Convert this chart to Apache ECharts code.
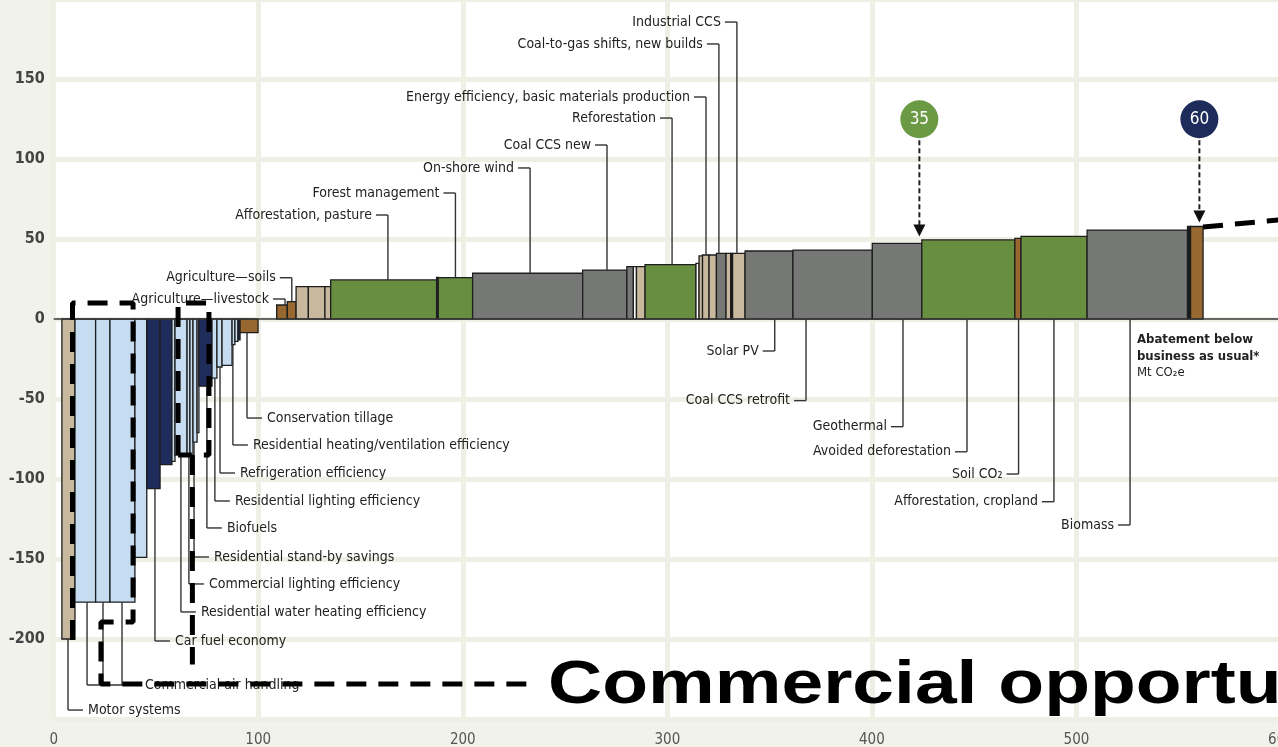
<!DOCTYPE html>
<html><head><meta charset="utf-8">
<script src="https://cdn.jsdelivr.net/npm/echarts@6/dist/echarts.min.js"></script>
<style>html,body{margin:0;padding:0;background:#f2f2ec;}#c{width:1278px;height:747px;}</style>
</head><body><div id="c"></div>
<script>
// ---- data: abatement segments (Mt CO2e cumulative) and cost ($/t CO2e) ----
const barStart = [4.0,10.4,20.5,27.5,39.7,45.5,52.0,57.8,59.3,65.2,66.6,68.1,70.1,71.0,77.4,79.8,82.3,87.2,88.6,90.1,91.1,
  109.0,114.2,118.5,124.5,132.6,135.4,187.2,188.0,204.8,258.6,280.2,283.4,284.9,289.1,314.0,315.5,317.2,320.4,324.0,328.7,331.0,331.9,338.0,361.4,400.2,424.4,469.9,472.9,505.2,554.3,555.8];
const barEnd = [10.4,20.5,27.5,39.7,45.5,52.0,57.8,59.3,65.2,66.6,68.1,70.1,71.0,77.4,79.8,82.3,87.2,88.6,90.1,91.1,99.9,
  114.2,118.5,124.5,132.6,135.4,187.2,188.0,204.8,258.6,280.2,283.4,284.9,289.1,314.0,315.5,317.2,320.4,324.0,328.7,331.0,331.9,338.0,361.4,400.2,424.4,469.9,472.9,505.2,554.3,555.8,561.9];
const barCost = [-200,-177,-177,-177,-149,-106,-91,-89,-85,-85,-85,-77,-71,-42,-37,-30,-29,-16,-14,-13,-8.5,
  8.75,10.8,20.2,20.2,20.2,24.4,26.0,25.8,28.6,30.6,32.7,32.7,32.7,34.0,34.8,39.4,40.0,40.0,41.0,41.0,41.0,41.0,42.5,43.1,47.3,49.4,50.4,51.6,55.6,57.8,57.8];
const barKind = ['tan','lblue','lblue','lblue','lblue','navy','navy','lblue','lblue','lblue','lblue','lblue','lblue','navy','lblue','lblue','lblue','lblue','lblue','navy','brown',
  'brown','brown','tan','tan','tan','green','navy','green','gray','gray','gray','white','tan','green','white','tan','tan','tan','gray','tan','black','tan','gray','gray','gray','green','brown','green','gray','black','brown'];
const kindColor = {tan:'#c8b99e', lblue:'#c6dcf0', navy:'#1d2c5b', brown:'#97682f', green:'#688f3f', gray:'#767876', white:'#ffffff', black:'#1b1b1b'};

// ---- labels ----
const labelText = ['Motor systems','Commercial air handling','Car fuel economy','Residential water heating efficiency','Commercial lighting efficiency','Residential stand-by savings','Biofuels','Residential lighting efficiency','Refrigeration efficiency','Residential heating/ventilation efficiency','Conservation tillage',
  'Agriculture\u2014livestock','Agriculture\u2014soils','Afforestation, pasture','Forest management','On-shore wind','Coal CCS new','Reforestation','Energy efficiency, basic materials production','Coal-to-gas shifts, new builds','Industrial CCS',
  'Solar PV','Coal CCS retrofit','Geothermal','Avoided deforestation','Soil CO\u2082','Afforestation, cropland','Biomass'];
const labelAt = [7.0,[16.3,24.1,33.4],49.5,62.2,66.1,68.6,74.9,78.8,81.3,87.6,94.5,
  113.1,116.4,163.4,196.4,232.9,270.5,302.3,318.9,325.2,334.0,
  352.5,367.8,415.2,446.5,471.7,489.0,526.2];
const labelLevel = [-244.4,-228.75,-201.25,-183.1,-165.6,-148.75,-130.6,-113.75,-96.25,-78.75,-61.9,
  12.5,25.8,65,78.75,94.4,108.75,125.6,138.75,171.9,185.6,
  -20,-51,-67.3,-83,-96.9,-114.2,-128.75];
const labelSide = ['r','r','r','r','r','r','r','r','r','r','r','l','l','l','l','l','l','l','l','l','l','l','l','l','l','l','l','l'];

// ---- price markers ----
const badgeText = ['35','60'];
const badgeAt = [423.2,560.1];
const badgeLevel = [124.8,124.8];
const badgeTip = [51.5,60.3];
const badgeColor = ['#6b9a45','#1d2c5b'];

// ---- overlay outline (commercial opportunities) ----
const outlineA = [[9.2,-200.6],[9.2,10],[38.8,10],[38.8,-189.4],[23.1,-189.4],[23.1,-228.1],[232.9,-228.1]];
const outlineB = [[60.8,-85],[60.8,10],[75.9,10],[75.9,-85],[60.8,-85]];
const outlineBTail = [[67.8,-85],[67.8,-216]];
const outlineC = [[561.9,57.5],[600,62]];

const FONT = "'Liberation Sans Narrow','DejaVu Sans Condensed','Liberation Sans',sans-serif";

function costAt(x){
  for (let i=0;i<barStart.length;i++){ if (x>=barStart[i] && x<=barEnd[i]) return barCost[i]; }
  return 0;
}

const chart = echarts.init(document.getElementById('c'), null, {renderer:'canvas'});

function renderBar(params, api){
  const i = params.dataIndex;
  const a = api.coord([api.value(0), 0]);
  const b = api.coord([api.value(1), api.value(2)]);
  return {type:'rect', shape:{x:a[0], y:Math.min(a[1],b[1]), width:b[0]-a[0], height:Math.abs(b[1]-a[1])},
    style:{fill:kindColor[barKind[i]], stroke:'#1e1e1e', lineWidth:1.3}};
}

function renderLabel(params, api){
  const i = params.dataIndex;
  const xs = [].concat(labelAt[i]);
  const lvl = labelLevel[i];
  const ypx = api.coord([0,lvl])[1];
  const children = [];
  const pxs = [];
  xs.forEach(function(x){
    const c = costAt(x);
    const start = (Math.sign(c)===Math.sign(lvl)) ? c : 0;
    const p = api.coord([x,start]);
    pxs.push(p[0]);
    children.push({type:'line', shape:{x1:p[0],y1:p[1],x2:p[0],y2:ypx}, style:{stroke:'#333',lineWidth:1.4}});
  });
  const minX = Math.min.apply(null,pxs), maxX = Math.max.apply(null,pxs);
  let tx, align;
  if (labelSide[i]==='r'){
    const end = maxX + (xs.length>1 ? 18 : 15);
    children.push({type:'line', shape:{x1:minX,y1:ypx,x2:end,y2:ypx}, style:{stroke:'#333',lineWidth:1.4}});
    tx = end + 5; align='left';
  } else {
    const end = minX - 12;
    children.push({type:'line', shape:{x1:end,y1:ypx,x2:maxX,y2:ypx}, style:{stroke:'#333',lineWidth:1.4}});
    tx = end - 4; align='right';
  }
  children.push({type:'text', x:tx, y:ypx, style:{text:labelText[i], align:align, verticalAlign:'middle', fill:'#222', font:'14px '+FONT}});
  return {type:'group', children:children};
}

function renderBadge(params, api){
  const i = params.dataIndex;
  const c = api.coord([badgeAt[i], badgeLevel[i]]);
  const tip = api.coord([badgeAt[i], badgeTip[i]]);
  const r = 19;
  return {type:'group', children:[
    {type:'line', shape:{x1:c[0],y1:c[1]+r+2,x2:c[0],y2:tip[1]-10}, style:{stroke:'#222',lineWidth:2,lineDash:[5,3]}},
    {type:'polygon', shape:{points:[[c[0]-6,tip[1]-12],[c[0]+6,tip[1]-12],[c[0],tip[1]]]}, style:{fill:'#111'}},
    {type:'circle', shape:{cx:c[0],cy:c[1],r:r}, style:{fill:badgeColor[i]}},
    {type:'text', x:c[0], y:c[1], style:{text:badgeText[i], align:'center', verticalAlign:'middle', fill:'#fff', font:'17px '+FONT}}
  ]};
}

function outline(data){
  return {type:'line', data:data, symbol:'none', silent:true, z:10, animation:false,
    lineStyle:{color:'#000', width:5, type:[20,12]}};
}

chart.setOption({
  animation:false,
  backgroundColor:'#f2f2ec',
  grid:{left:53.7, top:-1, width:1227.3, height:720, show:true, backgroundColor:'#ffffff', borderWidth:0, containLabel:false, outerBoundsMode:'none'},
  xAxis:{type:'value', min:0, max:600, interval:100,
    axisLine:{show:false, onZero:false}, axisTick:{show:false},
    splitLine:{lineStyle:{color:'#efefe6', width:5}},
    axisLabel:{color:'#555', fontSize:15, margin:14, fontFamily:FONT}},
  yAxis:{type:'value', min:-250, max:200, interval:50,
    axisLine:{show:false}, axisTick:{show:false},
    splitLine:{lineStyle:{color:'#efefe6', width:5}},
    axisLabel:{color:'#444', fontSize:16, fontWeight:'bold', margin:9, fontFamily:FONT, showMinLabel:false, showMaxLabel:false}},
  graphic:[
    {type:'text', left:1137, top:331, style:{text:'Abatement below\nbusiness as usual*', font:'bold 13px '+FONT, fill:'#222', lineHeight:17}},
    {type:'text', left:1137, top:366, style:{text:'Mt CO\u2082e', font:'13px '+FONT, fill:'#222'}},
    {type:'text', x:548, y:686, scaleX:1.21, z:20, style:{text:'Commercial opportu', align:'left', verticalAlign:'middle', font:'bold 62px "Liberation Sans",Arial,sans-serif', fill:'#000'}}
  ],
  series:[
    {type:'custom', name:'bars', renderItem:renderBar, clip:false, z:3,
      data:barStart.map(function(s,i){return [s, barEnd[i], barCost[i]];}),
      encode:{x:[0,1], y:2},
      markLine:{silent:true, symbol:['none','none'], label:{show:false}, lineStyle:{color:'#3a3a3a', width:1.5, type:'solid'}, data:[{yAxis:0}]}},
    {type:'custom', name:'labels', renderItem:renderLabel, z:4, clip:false,
      data:labelText.map(function(t,i){return [[].concat(labelAt[i])[0], labelLevel[i]];}), encode:{x:0,y:1}},
    {type:'custom', name:'badges', renderItem:renderBadge, z:5, clip:false,
      data:badgeText.map(function(t,i){return [badgeAt[i], badgeLevel[i]];}), encode:{x:0,y:1}},
    outline(outlineA), outline(outlineB), outline(outlineBTail), outline(outlineC)
  ]
});
</script></body></html>
